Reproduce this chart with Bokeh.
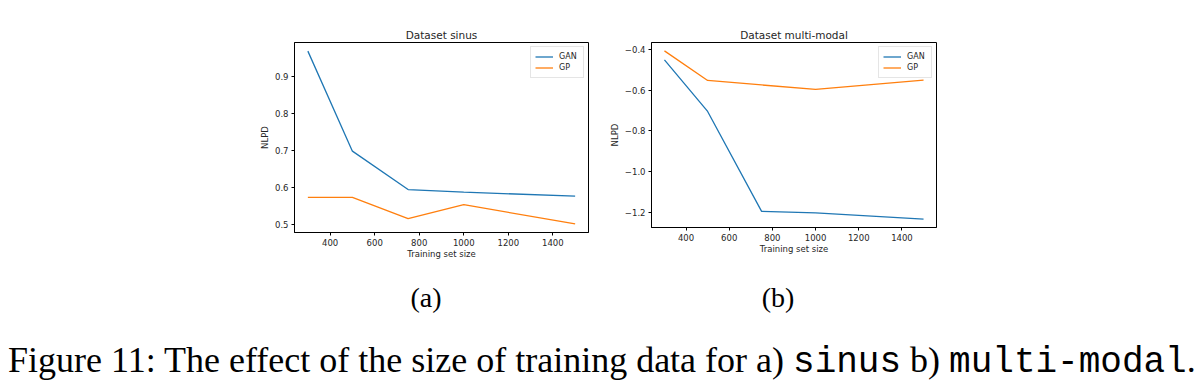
from bokeh.plotting import figure
from bokeh.models import Range1d, FixedTicker, CustomJSTickFormatter, Div, Spacer
from bokeh.layouts import row, column
from bokeh.embed import file_html
from bokeh.resources import INLINE

# ---- data ----
sizes = [300, 500, 750, 1000, 1500]
sinus_gan = [0.970, 0.699, 0.595, 0.588, 0.577]
sinus_gp = [0.574, 0.574, 0.516, 0.554, 0.502]
mm_gan = [-0.452, -0.705, -1.195, -1.203, -1.233]
mm_gp = [-0.408, -0.553, -0.575, -0.597, -0.551]
x_ticks = [400, 600, 800, 1000, 1200, 1400]
sinus_yticks = [0.5, 0.6, 0.7, 0.8, 0.9]
mm_yticks = [-1.2, -1.0, -0.8, -0.6, -0.4]
titles = ["Dataset sinus", "Dataset multi-modal"]
series_labels = ["GAN", "GP"]
xlabel = "Training set size"
ylabel = "NLPD"
sub_labels = ["(a)", "(b)"]

FONT = "DejaVu Sans"
BLUE = "#1f77b4"
ORANGE = "#ff7f0e"
TXT = "#262626"


def make_fig(title, gan, gp, yticks, ml, mt, fw, fh):
    lo = min(min(gan), min(gp))
    hi = max(max(gan), max(gp))
    pad = (hi - lo) * 0.05
    xpad = (max(sizes) - min(sizes)) * 0.05
    p = figure(frame_width=fw, frame_height=fh,
               min_border_left=ml, min_border_top=mt,
               min_border_right=10, min_border_bottom=36,
               x_range=Range1d(min(sizes) - xpad, max(sizes) + xpad),
               y_range=Range1d(lo - pad, hi + pad),
               output_backend="svg", toolbar_location=None, title=title)
    p.line(sizes, gan, color=BLUE, line_width=1.3, legend_label=series_labels[0])
    p.line(sizes, gp, color=ORANGE, line_width=1.3, legend_label=series_labels[1])
    p.grid.visible = False
    p.outline_line_color = "black"
    p.outline_line_width = 1
    p.background_fill_color = "white"
    p.border_fill_color = "white"
    p.title.text_font = FONT
    p.title.text_font_size = "10.5px"
    p.title.text_font_style = "normal"
    p.title.text_color = TXT
    p.title.align = "center"
    p.title.standoff = 4
    for ax in (p.xaxis[0], p.yaxis[0]):
        ax.axis_line_color = "black"
        ax.major_tick_line_color = "black"
        ax.major_tick_in = 0
        ax.major_tick_out = 3
        ax.minor_tick_line_color = None
        ax.major_label_text_font = FONT
        ax.major_label_text_font_size = "8.5px"
        ax.major_label_text_color = TXT
        ax.axis_label_text_font = FONT
        ax.axis_label_text_font_size = "8.5px"
        ax.axis_label_text_font_style = "normal"
        ax.axis_label_text_color = TXT
        ax.major_label_standoff = 3
        ax.axis_label_standoff = 2
    p.xaxis[0].axis_label_standoff = 0
    p.xaxis[0].ticker = FixedTicker(ticks=x_ticks)
    p.yaxis[0].ticker = FixedTicker(ticks=yticks)
    p.yaxis[0].formatter = CustomJSTickFormatter(
        code="return tick.toFixed(1).replace('-', '\u2212');")
    p.xaxis[0].axis_label = xlabel
    p.yaxis[0].axis_label = ylabel
    lg = p.legend[0]
    lg.location = "top_right"
    lg.margin = 4
    lg.padding = 4
    lg.spacing = 0
    lg.glyph_width = 18
    lg.glyph_height = 11
    lg.label_height = 11
    lg.label_standoff = 6
    lg.label_text_font = FONT
    lg.label_text_font_size = "8px"
    lg.label_text_color = TXT
    lg.border_line_color = "#cccccc"
    lg.border_line_width = 1
    lg.background_fill_alpha = 0.9
    return p


p1 = make_fig(titles[0], sinus_gan, sinus_gp, sinus_yticks, 50, 29, 294, 190)
p2 = make_fig(titles[1], mm_gan, mm_gp, mm_yticks, 45, 34, 285, 185)

charts = row(Spacer(width=244, height=255, margin=0), p1,
             Spacer(width=8, height=255, margin=0), p2)

sub_html = (
    '<div style="position:relative;width:1203px;height:119px;'
    'font-family:\'Liberation Serif\',serif;color:#000;">'
    f'<span style="position:absolute;left:376px;top:19px;width:100px;text-align:center;'
    f'font-size:28px;line-height:32px;">{sub_labels[0]}</span>'
    f'<span style="position:absolute;left:728px;top:19px;width:100px;text-align:center;'
    f'font-size:28px;line-height:32px;">{sub_labels[1]}</span>'
    '<span style="position:absolute;left:8px;top:77px;white-space:nowrap;'
    'font-size:36px;line-height:40px;">Figure 11: The effect of the size of training data for a) '
    '<span style="font-family:\'Liberation Mono\',monospace;">sinus</span> b) '
    '<span style="font-family:\'Liberation Mono\',monospace;">multi-modal</span>.</span>'
    '</div>'
)
bottom = Div(text=sub_html, width=1203, height=119, margin=0)

layout = column(Spacer(width=1203, height=8, margin=0), charts, bottom, spacing=0)

open("out.html", "w").write(file_html(layout, INLINE))
